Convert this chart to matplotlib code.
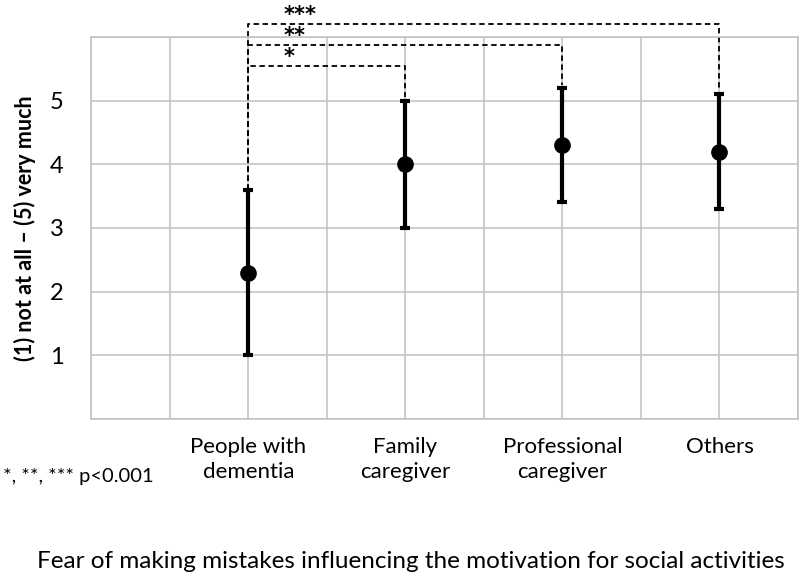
import numpy as np
import matplotlib
matplotlib.use("Agg")
import matplotlib.pyplot as plt

plt.rcParams['font.family'] = ['Lato', 'DejaVu Sans']

groups = ["People with\ndementia", "Family\ncaregiver", "Professional\ncaregiver", "Others"]
means = [2.3, 4.0, 4.3, 4.2]
sds = [1.3, 1.0, 0.9, 0.9]
# significance brackets: (target group index, bracket height, label)
brackets = [(1, 5.55, "*"), (2, 5.87, "**"), (3, 6.2, "***")]

xpos = [2, 4, 6, 8]

fig = plt.figure(figsize=(8, 5.79), dpi=100)
ax = fig.add_axes([0.114, 0.2763, 0.8835, 0.66])

ax.errorbar(xpos, means, yerr=sds, fmt='o', color='black', ms=11,
            elinewidth=3, capsize=3.5, capthick=3, zorder=3)

ax.set_xlim(0, 9)
ax.set_ylim(0, 6)
ax.set_xticks(range(10))
ax.set_xticklabels(["", "", groups[0], "", groups[1], "", groups[2], "", groups[3], ""],
                   fontsize=16, va='top', linespacing=1.3)
ax.tick_params(axis='x', pad=13)
ax.set_yticks(range(7))
ax.set_yticklabels(["", "1", "2", "3", "4", "5", ""], fontsize=17)
ax.tick_params(axis='both', length=0)
ax.tick_params(axis='y', pad=20)
ax.grid(True, color='#c0c0c0', lw=1.1)
for s in ax.spines.values():
    s.set_color('#c0c0c0')
    s.set_linewidth(1.1)
ax.set_axisbelow(True)

ax.set_ylabel("(1) not at all \u2013 (5) very much", fontsize=15.5, fontweight='bold', labelpad=10)

# significance brackets
x0 = xpos[0]
top0 = means[0] + sds[0]
for idx, h, lab in brackets:
    x1 = xpos[idx]
    top1 = means[idx] + sds[idx]
    ax.plot([x0, x0, x1, x1], [top0, h, h, top1 + 0.05], ls=(0, (3, 2)),
            color='black', lw=1.3, clip_on=False, zorder=2)
    ax.text(x0 + 0.45, h - 0.02, lab, fontsize=15, fontweight='bold',
            family='DejaVu Sans', ha='left', va='bottom', clip_on=False)

fig.text(0.004, 0.177, "*, **, *** p<0.001", fontsize=14.5, ha='left', va='center')
fig.text(0.513, 0.03, "Fear of making mistakes influencing the motivation for social activities",
         fontsize=17.5, ha='center', va='center')

fig.savefig("out.png", dpi=100)
